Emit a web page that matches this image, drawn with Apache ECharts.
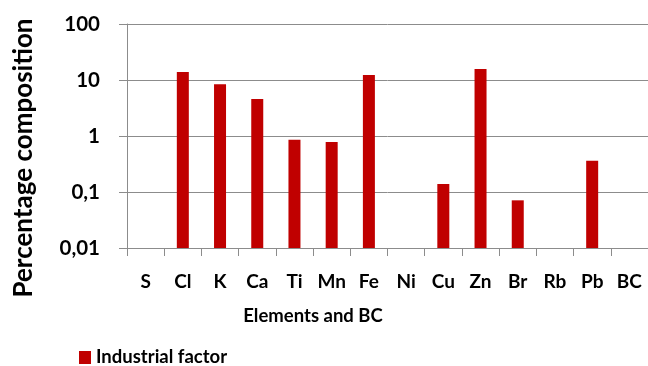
<!DOCTYPE html>
<html>
<head>
<meta charset="utf-8">
<script src="https://cdn.jsdelivr.net/npm/echarts@6/dist/echarts.min.js"></script>
<style>
  html, body { margin: 0; padding: 0; background: #fff; }
  #chart { width: 648px; height: 366px; }
</style>
</head>
<body>
<div id="chart"></div>
<script>
// Element categories along the x axis
var categories = ['S', 'Cl', 'K', 'Ca', 'Ti', 'Mn', 'Fe', 'Ni', 'Cu', 'Zn', 'Br', 'Rb', 'Pb', 'BC'];
// Industrial factor profile (percentage composition); null = not present
var industrialFactor = [null, 13.9, 8.4, 4.6, 0.86, 0.78, 12.3, null, 0.139, 15.7, 0.071, null, 0.36, null];
// Decimal-comma tick labels for the log axis
var yTickLabels = { 0.01: '0,01', 0.1: '0,1', 1: '1', 10: '10', 100: '100' };
var Y_MIN = 0.01, Y_MAX = 100;

var FONT = 'Lato';
var BAR_COLOR = '#c00000';
var chart = echarts.init(document.getElementById('chart'), null, { renderer: 'canvas' });

// Bars rise from the bottom of the log axis (0.01) up to their value
function renderBar(params, api) {
  var v = api.value(1);
  if (v == null || isNaN(v)) return null;
  var top = api.coord([api.value(0), v]);
  var base = api.coord([api.value(0), Y_MIN]);
  var w = 12;
  return {
    type: 'rect',
    shape: { x: top[0] - w / 2, y: top[1], width: w, height: base[1] - top[1] },
    style: { fill: BAR_COLOR }
  };
}

chart.setOption({
  animation: false,
  grid: { left: 127, right: 0, top: 24, bottom: 118, containLabel: false },
  legend: {
    data: ['Industrial factor'],
    left: 74, top: 343,
    itemWidth: 12, itemHeight: 13, itemGap: 6,
    icon: 'rect',
    textStyle: { fontFamily: FONT, fontWeight: 'bold', fontSize: 18.5, color: '#000' }
  },
  xAxis: {
    type: 'category',
    data: categories,
    boundaryGap: true,
    axisLine: { lineStyle: { color: '#8c8c8c', width: 1 } },
    axisTick: { show: true, alignWithLabel: false, length: 8, lineStyle: { color: '#8c8c8c' } },
    axisLabel: { margin: 24, fontFamily: FONT, fontWeight: 'bold', fontSize: 19, color: '#000', interval: 0 }
  },
  yAxis: {
    type: 'log',
    logBase: 10,
    min: Y_MIN,
    max: Y_MAX,
    axisLine: { show: true, lineStyle: { color: '#8c8c8c', width: 1 } },
    axisTick: { show: true, length: 8, lineStyle: { color: '#8c8c8c' } },
    splitLine: { show: true, lineStyle: { color: '#8c8c8c', width: 1 } },
    axisLabel: {
      margin: 27,
      fontFamily: FONT, fontWeight: 'bold', fontSize: 20.5, color: '#000',
      formatter: function (v) {
        var key = Number(v.toPrecision(3));
        return yTickLabels[key] !== undefined ? yTickLabels[key] : '';
      }
    }
  },
  graphic: [
    {
      type: 'text',
      x: 24, y: 158,
      rotation: Math.PI / 2,
      style: {
        text: 'Percentage composition',
        fontFamily: FONT, fontWeight: 'bold', fontSize: 26, fill: '#000',
        textAlign: 'center', textVerticalAlign: 'middle'
      }
    },
    {
      type: 'text',
      x: 313, y: 316,
      style: {
        text: 'Elements and BC',
        fontFamily: FONT, fontWeight: 'bold', fontSize: 18.5, fill: '#000',
        textAlign: 'center', textVerticalAlign: 'middle'
      }
    }
  ],
  series: [{
    name: 'Industrial factor',
    type: 'custom',
    renderItem: renderBar,
    encode: { x: 0, y: 1 },
    itemStyle: { color: BAR_COLOR },
    data: industrialFactor.map(function (v, i) { return [i, v]; })
  }]
});
</script>
</body>
</html>
